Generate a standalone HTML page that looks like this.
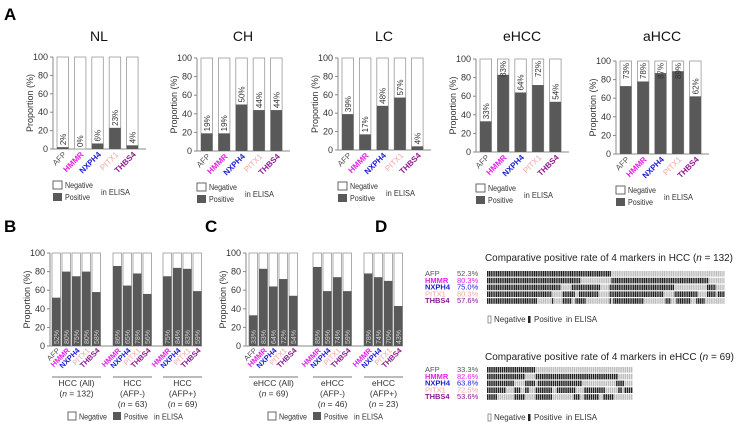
<!DOCTYPE html>
<html><head><meta charset="utf-8"><style>
html,body{margin:0;padding:0;background:#fff;}
svg{display:block;font-family:"Liberation Sans",Arial,sans-serif;}
</style></head><body>
<svg id="fig" width="740" height="427" viewBox="0 0 740 427" xmlns="http://www.w3.org/2000/svg"></svg>
<script>
// ---------- data ----------
const markers = ["AFP","HMMR","NXPH4","PITX1","THBS4"];
const groupsA = ["NL","CH","LC","eHCC","aHCC"];
const valsNL = [2,0,6,23,4];
const valsCH = [19,19,50,44,44];
const valsLC = [39,17,48,57,4];
const valsEHCC = [33,83,64,72,54];
const valsAHCC = [73,78,87,89,62];
const ticks = [0,20,40,60,80,100];
const valsB_all = [52,80,75,80,58];
const valsB_neg = [86,65,78,56];
const valsB_pos = [75,84,83,59];
const valsC_all = [33,83,64,72,54];
const valsC_neg = [85,59,74,59];
const valsC_pos = [78,74,70,43];
const ratesHCC = ["52.3%","80.3%","75.0%","80.3%","57.6%"];
const ratesEHCC = ["33.3%","82.6%","63.8%","72.5%","53.6%"];
// run-length [positive?, count] per marker row
const runsHCC = [
 [[1,69],[0,63]],
 [[1,52],[0,17],[1,54],[0,9]],
 [[1,41],[0,6],[1,16],[0,5],[1,36],[0,18],[1,5],[0,5]],
 [[1,36],[0,6],[1,7],[0,2],[1,11],[0,6],[1,30],[0,6],[1,13],[0,5],[1,5],[0,1],[1,4]],
 [[1,28],[0,8],[1,1],[0,5],[1,5],[0,2],[1,6],[0,13],[1,1],[0,1],[1,17],[0,12],[1,3],[0,3],[1,8],[0,3],[1,5],[0,11]]
];
const runsEHCC = [
 [[1,23],[0,46]],
 [[1,18],[0,5],[1,39],[0,7]],
 [[1,13],[0,5],[1,5],[0,1],[1,21],[0,16],[1,4],[0,4]],
 [[1,9],[0,4],[1,3],[0,2],[1,2],[0,3],[1,8],[0,2],[1,9],[0,4],[1,10],[0,6],[1,2],[0,1],[1,4]],
 [[1,5],[0,8],[1,5],[0,5],[1,8],[0,10],[1,3],[0,2],[1,7],[0,2],[1,5],[0,9]]
];
const colors = {AFP:"#555555",HMMR:"#e61fe6",NXPH4:"#1c1cd6",PITX1:"#f2a7a2",THBS4:"#8e1a8e"};
const bolds = {AFP:false,HMMR:true,NXPH4:true,PITX1:false,THBS4:true};
const DARK="#595959";
// ---------- helpers ----------
const S=document.getElementById('fig');
function mk(tag,at,parent){const e=document.createElementNS("http://www.w3.org/2000/svg",tag);for(const k in at)e.setAttribute(k,at[k]);(parent||S).appendChild(e);return e;}
function txt(x,y,s,at,parent){const e=mk('text',Object.assign({x:x,y:y},at||{}),parent);e.textContent=s;return e;}
function yAxis(g,ax,y0,y100,xEnd,fs){
  const ys=v=>y0-(y0-y100)*v/100;
  mk('line',{x1:ax,y1:y100,x2:ax,y2:y0,stroke:"#888","stroke-width":1},g);
  mk('line',{x1:ax,y1:y0,x2:xEnd,y2:y0,stroke:"#888","stroke-width":1},g);
  ticks.forEach(t=>{
    mk('line',{x1:ax-3,y1:ys(t),x2:ax,y2:ys(t),stroke:"#888"},g);
    const l=txt(ax-5,ys(t)+3,String(t),{"font-size":fs,"text-anchor":"end",fill:"#333"},g);
    
    
  });
  const yt=txt(0,0,"Proportion (%)",{"font-size":fs,"text-anchor":"middle",fill:"#333",transform:`translate(${ax-20},${(y0+y100)/2}) rotate(-90)`},g);
  
  
  return ys;
}
function bar(g,x,w,ys,v,name){
  const r1=mk('rect',{x:x,y:ys(100),width:w,height:ys(0)-ys(100),fill:"#fff",stroke:"#999","stroke-width":0.8},g);
  
  
  const r2=mk('rect',{x:x,y:ys(v),width:w,height:ys(0)-ys(v),fill:DARK},g);
  
  
}
function mlabel(g,x,y,m,fs){
  const t=txt(0,0,m,{"font-size":fs,"text-anchor":"end",fill:colors[m],"font-weight":bolds[m]?"bold":"normal",transform:`translate(${x},${y}) rotate(-45)`},g);
  
  
}
function legendA(g,x,y){
  mk('rect',{x:x,y:y,width:9,height:8,fill:"#fff",stroke:"#666"},g);
  txt(x+12,y+7,"Negative",{"font-size":8,fill:"#333",textLength:28,lengthAdjust:"spacingAndGlyphs"},g);
  mk('rect',{x:x,y:y+12,width:9,height:8,fill:DARK},g);
  txt(x+12,y+19,"Positive",{"font-size":8,fill:"#333",textLength:25,lengthAdjust:"spacingAndGlyphs"},g);
  txt(x+48,y+14,"in ELISA",{"font-size":8,fill:"#333",textLength:29,lengthAdjust:"spacingAndGlyphs"},g);
}
// ---------- panel letters ----------
[["A",4,20],["B",4,232],["C",205,232],["D",375,232]].forEach(p=>{
  const t=txt(p[1],p[2],p[0],{"font-size":17,"font-weight":"bold",fill:"#000"});
  
  
});
// ---------- panel A ----------
const layoutA=[{ax:53,y100:57,y0:149},{ax:197,y100:58,y0:151},{ax:338,y100:58,y0:150},{ax:476,y100:59,y0:152},{ax:616,y100:61,y0:154}];
const valsA=[valsNL,valsCH,valsLC,valsEHCC,valsAHCC];
groupsA.forEach((gname,gi)=>{
  const L=layoutA[gi];
  const g=mk('g',{});
  
  
  const ys=yAxis(g,L.ax,L.y0,L.y100,L.ax+93,9);
  const tt=txt(L.ax+46,41,gname,{"font-size":14,"text-anchor":"middle",fill:"#111"},g);
  
  
  valsA[gi].forEach((v,i)=>{
    const x=L.ax+4+i*17.4, w=11.5;
    bar(g,x,w,ys,v,'bar-'+gname.toLowerCase()+'-'+markers[i].toLowerCase());
    const ly = v>70 ? ys(100)+2 : ys(v)-2;
    const anc = v>70 ? "end":"start";
    txt(0,0,v+"%",{"font-size":8,fill:"#333","text-anchor":anc,transform:`translate(${x+w/2+3},${ly}) rotate(-90)`},g);
    mlabel(g,x+w/2+4,L.y0+6,markers[i],8);
  });
  legendA(g,L.ax,L.y0+32);
});
// ---------- panels B & C ----------
function groupedChart(name,ax,groups,labels,legX){
  const g=mk('g',{});
  
  
  const y0=346,y100=253;
  const ys=yAxis(g,ax,y0,y100,ax+152,9);
  groups.forEach((grp,gi)=>{
    const ms = grp.vals.length===5?markers:markers.slice(1);
    grp.vals.forEach((v,i)=>{
      const x=grp.x0+i*10,w=8.5;
      bar(g,x,w,ys,v,'bar-'+name+'-'+gi+'-'+ms[i].toLowerCase());
      txt(0,0,v+"%",{"font-size":7,fill:"#d0d0d0","text-anchor":"start",transform:`translate(${x+w/2+2.5},${y0-2}) rotate(-90)`},g);
      mlabel(g,x+w/2+4,y0+5,ms[i],7.5);
    });
    const x1=grp.x0, x2=grp.x0+grp.vals.length*10-1, cx=(x1+x2)/2;
    mk('line',{x1:x1,y1:377,x2:x2,y2:377,stroke:"#777"},g);
    grp.lines.forEach((ln,li)=>{
      const t=mk('text',{x:cx,y:386+li*10.5,"font-size":8.5,"text-anchor":"middle",fill:"#333"},g);
      if(ln.indexOf("n =")>=0){t.innerHTML=ln.replace("n","<tspan font-style='italic'>n</tspan>");}else t.textContent=ln;
    });
  });
  mk('rect',{x:legX,y:412,width:8,height:8,fill:"#fff",stroke:"#666"},g);
  txt(legX+11,419.5,"Negative",{"font-size":8,fill:"#333",textLength:28,lengthAdjust:"spacingAndGlyphs"},g);
  mk('rect',{x:legX+45,y:412,width:8,height:8,fill:DARK},g);
  txt(legX+56,419.5,"Positive",{"font-size":8,fill:"#333",textLength:24,lengthAdjust:"spacingAndGlyphs"},g);
  txt(legX+86,419.5,"in ELISA",{"font-size":8,fill:"#333",textLength:29,lengthAdjust:"spacingAndGlyphs"},g);
}
groupedChart('chart-b',50,[
 {x0:52,vals:valsB_all,lines:["HCC (All)","(n = 132)"]},
 {x0:113,vals:valsB_neg,lines:["HCC","(AFP-)","(n = 63)"]},
 {x0:163,vals:valsB_pos,lines:["HCC","(AFP+)","(n = 69)"]}
],0,68);
groupedChart('chart-c',246,[
 {x0:249,vals:valsC_all,lines:["eHCC (All)","(n = 69)"]},
 {x0:313,vals:valsC_neg,lines:["eHCC","(AFP-)","(n = 46)"]},
 {x0:364,vals:valsC_pos,lines:["eHCC","(AFP+)","(n = 23)"]}
],0,268);
// ---------- panel D ----------
function barcode(name,title,tlen,ty,rowY,x0,x1,runs,rates,legY){
  const g=mk('g',{});
  
  
  const t=mk('text',{x:485,y:ty,"font-size":10.5,fill:"#222",textLength:tlen,lengthAdjust:"spacingAndGlyphs"},g);
  t.innerHTML=title;
  const n=runs[0].reduce((a,r)=>a+r[1],0);
  const step=(x1-x0)/n;
  markers.forEach((m,i)=>{
    const y=rowY+i*6.8;
    txt(425,y+5,m,{"font-size":7.5,fill:colors[m],"font-weight":bolds[m]?"bold":"normal"},g);
    txt(457,y+5,rates[i],{"font-size":7.5,fill:colors[m]},g);
    let k=0;
    runs[i].forEach(r=>{
      for(let j=0;j<r[1];j++){
        mk('rect',{x:(x0+(k+j)*step).toFixed(2),y:y,width:(step*0.72).toFixed(2),height:5.6,fill:r[0]?"#222":"#bdbdbd"},g);
      }
      k+=r[1];
    });
  });
  mk('rect',{x:488,y:legY-6,width:3,height:7,fill:"#fff",stroke:"#555","stroke-width":0.6},g);
  txt(494,legY,"Negative",{"font-size":8,fill:"#333"},g);
  mk('rect',{x:528,y:legY-6,width:2.5,height:7,fill:"#222"},g);
  txt(534,legY,"Positive",{"font-size":8,fill:"#333"},g);
  txt(566,legY,"in ELISA",{"font-size":8,fill:"#333"},g);
}
barcode('barcode-hcc',"Comparative positive rate of 4 markers in HCC (<tspan font-style='italic'>n</tspan> = 132)",248,261,271,487,725,runsHCC,ratesHCC,322);
barcode('barcode-ehcc',"Comparative positive rate of 4 markers in eHCC (<tspan font-style='italic'>n</tspan> = 69)",249,360,367,487,633,runsEHCC,ratesEHCC,420);
</script>
</body></html>
